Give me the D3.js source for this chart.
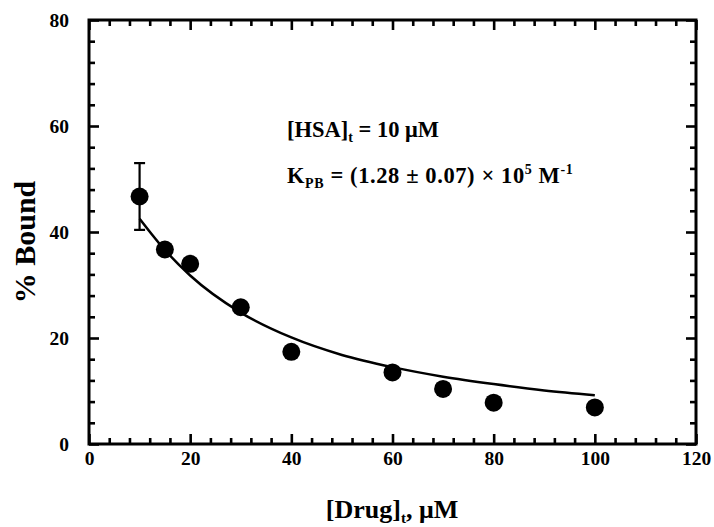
<!DOCTYPE html>
<html>
<head>
<meta charset="utf-8">
<script src="https://cdn.jsdelivr.net/npm/d3@7"></script>
<style>
  html, body { margin: 0; padding: 0; background: #fff; }
  svg { display: block; }
  text { font-family: "Liberation Serif", "Times New Roman", serif; font-weight: bold; fill: #000; }
</style>
</head>
<body>
<script>
// ---- data ----
const drugConc   = [10, 15, 20, 30, 40, 60, 70, 80, 100];        // [Drug]t, µM
const pctBound   = [46.7, 36.7, 34.0, 25.8, 17.4, 13.5, 10.4, 7.8, 6.9];
const errBars    = [6.3, 0, 0, 0, 0, 0, 0, 0, 0];
const fitX       = [10, 15, 20, 30, 40, 50, 60, 70, 80, 90, 100];
const fitY       = [42.5, 36.6, 31.8, 24.8, 20.1, 16.8, 14.5, 12.7, 11.3, 10.1, 9.2];
const xTicks     = [0, 20, 40, 60, 80, 100, 120];
const yTicks     = [0, 20, 40, 60, 80];

const W = 714, H = 527;
const svg = d3.select("body").append("svg").attr("width", W).attr("height", H);

const x = d3.scaleLinear().domain([0, 120]).range([89, 696]);
const y = d3.scaleLinear().domain([0, 80]).range([444, 20]);

const xMinor = d3.range(0, 121, 4).filter(v => v % 20 !== 0);
const yMinor = d3.range(0, 81, 4).filter(v => v % 20 !== 0);

function styleAxis(g) {
  g.select(".domain").remove();
  g.selectAll("line").attr("stroke", "#000").attr("stroke-width", 2.6);
}

// bottom major (with labels)
svg.append("g").attr("transform", `translate(0,${y(0)})`)
  .call(d3.axisBottom(x).tickValues(xTicks).tickSizeInner(-10).tickSizeOuter(0).tickPadding(21).tickFormat(d3.format("d")))
  .call(styleAxis)
  .call(g => g.selectAll("text").attr("font-size", 19.5).attr("dy", 0));
svg.append("g").attr("transform", `translate(0,${y(0)})`)
  .call(d3.axisBottom(x).tickValues(xMinor).tickSizeInner(-6).tickSizeOuter(0).tickFormat(""))
  .call(styleAxis);
// top
svg.append("g").attr("transform", `translate(0,${y(80)})`)
  .call(d3.axisTop(x).tickValues(xTicks).tickSizeInner(-10).tickSizeOuter(0).tickFormat(""))
  .call(styleAxis);
svg.append("g").attr("transform", `translate(0,${y(80)})`)
  .call(d3.axisTop(x).tickValues(xMinor).tickSizeInner(-6).tickSizeOuter(0).tickFormat(""))
  .call(styleAxis);
// left major (with labels)
svg.append("g").attr("transform", `translate(${x(0)},0)`)
  .call(d3.axisLeft(y).tickValues(yTicks).tickSizeInner(-10).tickSizeOuter(0).tickPadding(20).tickFormat(d3.format("d")))
  .call(styleAxis)
  .call(g => g.selectAll("text").attr("font-size", 19.5));
svg.append("g").attr("transform", `translate(${x(0)},0)`)
  .call(d3.axisLeft(y).tickValues(yMinor).tickSizeInner(-6).tickSizeOuter(0).tickFormat(""))
  .call(styleAxis);
// right
svg.append("g").attr("transform", `translate(${x(120)},0)`)
  .call(d3.axisRight(y).tickValues(yTicks).tickSizeInner(-10).tickSizeOuter(0).tickFormat(""))
  .call(styleAxis);
svg.append("g").attr("transform", `translate(${x(120)},0)`)
  .call(d3.axisRight(y).tickValues(yMinor).tickSizeInner(-6).tickSizeOuter(0).tickFormat(""))
  .call(styleAxis);

// frame
svg.append("rect")
  .attr("x", x(0)).attr("y", y(80))
  .attr("width", x(120) - x(0)).attr("height", y(0) - y(80))
  .attr("fill", "none").attr("stroke", "#000").attr("stroke-width", 3);

// fitted curve
const fit = fitX.map((d, i) => [d, fitY[i]]);
svg.append("path")
  .attr("d", d3.line().x(d => x(d[0])).y(d => y(d[1])).curve(d3.curveMonotoneX)(fit))
  .attr("fill", "none").attr("stroke", "#000").attr("stroke-width", 2.5);

// error bars
const pts = drugConc.map((d, i) => ({ x: d, y: pctBound[i], e: errBars[i] }));
const eb = svg.append("g").attr("stroke", "#000").attr("stroke-width", 2.2);
pts.filter(p => p.e > 0).forEach(p => {
  eb.append("line").attr("x1", x(p.x)).attr("x2", x(p.x)).attr("y1", y(p.y - p.e)).attr("y2", y(p.y + p.e));
  [p.y - p.e, p.y + p.e].forEach(v => {
    eb.append("line").attr("x1", x(p.x) - 5.5).attr("x2", x(p.x) + 5.5).attr("y1", y(v)).attr("y2", y(v));
  });
});

// points
svg.append("g").selectAll("circle").data(pts).join("circle")
  .attr("cx", d => x(d.x)).attr("cy", d => y(d.y)).attr("r", 9).attr("fill", "#000");

// axis titles
svg.append("text")
  .attr("transform", `translate(35,${(y(0) + y(80)) / 2 + 10}) rotate(-90)`)
  .attr("text-anchor", "middle").attr("font-size", 30)
  .text("% Bound");

const xt = svg.append("text").attr("x", 392).attr("y", 518).attr("text-anchor", "middle").attr("font-size", 26);
xt.append("tspan").text("[Drug]");
xt.append("tspan").attr("font-size", 15).attr("dy", 5).text("t");
xt.append("tspan").attr("dy", -5).text(", \u03bcM");

// annotations
const a1 = svg.append("text").attr("x", 287).attr("y", 137).attr("font-size", 22.5);
a1.append("tspan").text("[HSA]");
a1.append("tspan").attr("font-size", 14).attr("dy", 5).text("t");
a1.append("tspan").attr("dy", -5).text(" = 10 \u03bcM");

const a2 = svg.append("text").attr("x", 287).attr("y", 183).attr("font-size", 22.5).attr("letter-spacing", 0.6);
a2.append("tspan").text("K");
a2.append("tspan").attr("font-size", 14).attr("dy", 5).text("PB");
a2.append("tspan").attr("dy", -5).text(" = (1.28 \u00b1 0.07) \u00d7 10");
a2.append("tspan").attr("font-size", 14).attr("dy", -9).text("5");
a2.append("tspan").attr("dy", 9).text(" M");
a2.append("tspan").attr("font-size", 14).attr("dy", -9).text("-1");
</script>
</body>
</html>
